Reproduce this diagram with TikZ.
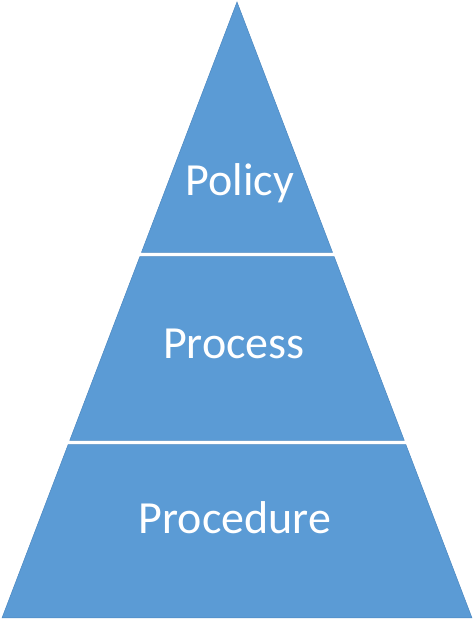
\documentclass[tikz,border=0pt]{standalone}
\usepackage{fontspec}
\setmainfont{Carlito}
\usepackage{tikz}
\usetikzlibrary{calc}
\definecolor{layerblue}{RGB}{91,155,213}
\definecolor{layeredge}{RGB}{75,135,192}
\tikzset{
  layer/.style={fill=layerblue, draw=layeredge, line width=0.5pt, line join=miter},
  lbl/.style={anchor=base, text=white, font=\fontsize{46}{52}\selectfont, inner sep=0pt}
}
\begin{document}
\begin{tikzpicture}[x=1pt, y=1pt]
  \useasboundingbox (0,0) rectangle (474,621);
  % corners of the pyramid
  \coordinate (apex) at (237,619);
  \coordinate (bl) at (2,3);
  \coordinate (br) at (472,3);

  % three layers, white gaps between them
  \fill[layer] (apex) -- ($(bl)!0.5935!(apex)$) -- ($(br)!0.5935!(apex)$) -- cycle;
  \fill[layer] ($(bl)!0.5867!(apex)$) -- ($(bl)!0.2883!(apex)$)
    -- ($(br)!0.2883!(apex)$) -- ($(br)!0.5867!(apex)$) -- cycle;
  \fill[layer] ($(bl)!0.2815!(apex)$) -- (bl) -- (br) -- ($(br)!0.2815!(apex)$) -- cycle;

  % labels
  \node[lbl] (policy) at (240,425) {Policy};
  \node[lbl] (process) at (234,262) {Process};
  \node[lbl] (procedure) at (235,87) {Procedure};
\end{tikzpicture}
\end{document}
